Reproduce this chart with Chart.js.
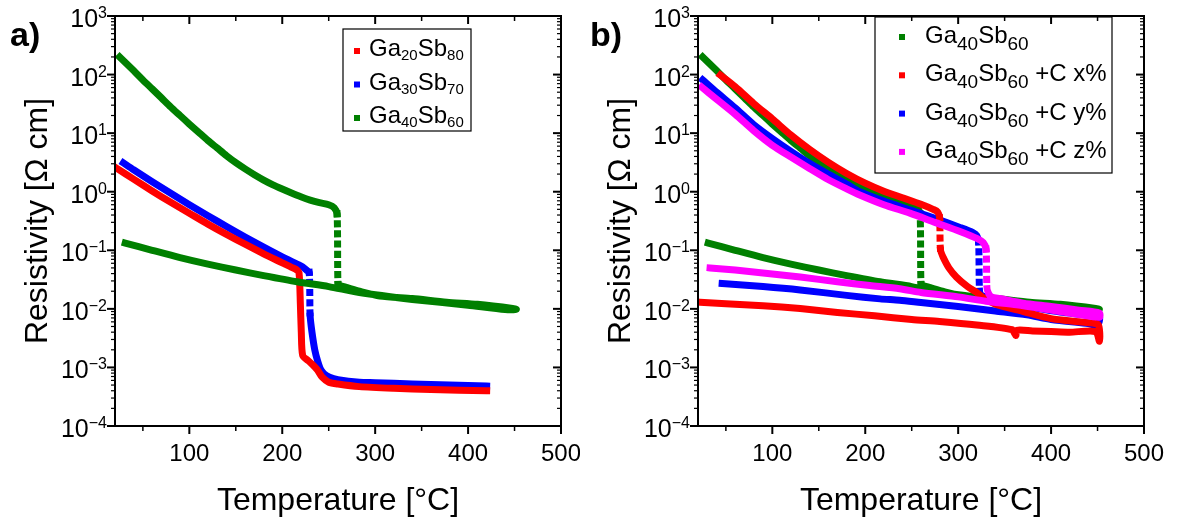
<!DOCTYPE html>
<html>
<head>
<meta charset="utf-8">
<title>Resistivity vs temperature</title>
<script src="https://cdn.jsdelivr.net/npm/chart.js@4/dist/chart.umd.min.js"></script>
<style>
body { margin: 0; background: #fff; }
#wrap { position: relative; width: 1177px; height: 524px; }
canvas { position: absolute; top: 0; }
</style>
</head>
<body>
<div id="wrap">
  <canvas id="chartA" width="580" height="524" style="left:0"></canvas>
  <canvas id="chartB" width="597" height="524" style="left:580px"></canvas>
</div>

<script>
// ---- data (T in degC, resistivity in Ohm cm) ----
// panel a
var tGa20Sb80 = [22, 40, 60, 80, 100, 120, 140, 160, 180, 200, 210, 215, 218, 219.5, 220.5, 222, 228, 233, 238, 243, 250, 260, 283, 320, 360, 420];
var rGa20Sb80 = [2.5, 1.64, 1.03, 0.66, 0.43, 0.28, 0.187, 0.127, 0.087, 0.061, 0.051, 0.047, 0.042, 0.012, 0.004, 0.0016, 0.0013, 0.0011, 0.0009, 0.00068, 0.00056, 0.00052, 0.00047, 0.00044, 0.00042, 0.0004];

var tGa30Sb70 = [29, 40, 60, 80, 100, 120, 140, 160, 180, 200, 216, 222, 226, 229, 230, 232, 235, 238, 241, 245, 251, 260, 283, 300, 340, 380, 420];
var rGa30Sb70 = [3.1, 2.37, 1.48, 0.94, 0.6, 0.39, 0.254, 0.168, 0.113, 0.077, 0.058, 0.052, 0.046, 0.042, 0.0075, 0.004, 0.002, 0.0013, 0.00095, 0.00078, 0.00068, 0.00062, 0.00056, 0.00055, 0.00052, 0.0005, 0.00048];

// heating up to 452 degC, then the cooling branch back to 31 degC
var tGa40Sb60 = [25, 40, 50, 60, 70, 80, 90, 100, 111, 120, 130, 140, 150, 160, 170, 180, 190, 200, 210, 220, 230, 240, 250, 256, 259,
                 260, 262, 270, 283, 305, 340, 377, 410, 448, 452,
                 440, 400, 340, 283, 250, 216, 180, 150, 120, 90, 60, 31];
var rGa40Sb60 = [200, 117, 81, 57, 40, 28, 20, 14.3, 10, 7.5, 5.56, 4.12, 3.13, 2.45, 1.95, 1.58, 1.31, 1.11, 0.95, 0.82, 0.72, 0.65, 0.6, 0.53, 0.42,
                 0.026, 0.025, 0.023, 0.02, 0.0166, 0.015, 0.013, 0.012, 0.0102, 0.0098,
                 0.0097, 0.0115, 0.0145, 0.019, 0.024, 0.029, 0.037, 0.046, 0.058, 0.075, 0.1, 0.133];

// panel b
var tCx = [44, 60, 80, 100, 120, 140, 160, 180, 200, 220, 240, 260, 273, 278, 280, 281, 284, 290, 298, 310, 320, 326, 340, 370, 400, 430, 450, 452, 452,
           448, 420, 400, 380, 363, 362, 358, 320, 280, 250, 210, 170, 130, 90, 50, 22];
var rCx = [98, 62, 32, 17.5, 9.3, 5.3, 3.2, 2.05, 1.4, 1.02, 0.79, 0.61, 0.5, 0.45, 0.36, 0.1, 0.075, 0.05, 0.035, 0.024, 0.019, 0.016, 0.012, 0.009, 0.0068, 0.006, 0.0055, 0.0045, 0.0028,
           0.0041, 0.004, 0.0041, 0.0042, 0.0043, 0.0035, 0.0044, 0.0053, 0.0061, 0.0066, 0.0076, 0.0087, 0.0101, 0.0113, 0.0122, 0.013];

var tCy = [25, 40, 60, 80, 100, 120, 140, 160, 180, 194, 220, 248, 275, 302, 316, 320, 322, 323, 325, 340, 360, 380, 410, 440, 452,
           450, 440, 400, 374, 340, 300, 260, 237, 216, 180, 130, 90, 46];
var rCy = [81, 50, 27, 14, 8.1, 4.9, 3.05, 2.0, 1.35, 1.0, 0.69, 0.49, 0.35, 0.245, 0.2, 0.178, 0.14, 0.02, 0.017, 0.014, 0.012, 0.0105, 0.0088, 0.0078, 0.0072,
           0.0053, 0.0056, 0.0066, 0.0079, 0.0092, 0.011, 0.0128, 0.014, 0.0148, 0.017, 0.021, 0.024, 0.027];

var tCz = [24, 40, 60, 80, 100, 120, 140, 160, 180, 194, 220, 248, 275, 302, 320, 327, 330, 331, 333, 336, 345, 370, 400, 430, 452,
           452, 430, 400, 363, 330, 300, 260, 237, 205, 170, 130, 90, 60, 33];
var rCz = [61, 38, 21, 11, 6.2, 3.9, 2.5, 1.62, 1.12, 0.88, 0.6, 0.43, 0.3, 0.21, 0.16, 0.135, 0.105, 0.022, 0.018, 0.016, 0.015, 0.0125, 0.011, 0.0095, 0.0085,
           0.0072, 0.008, 0.0095, 0.0117, 0.0135, 0.016, 0.019, 0.022, 0.025, 0.029, 0.035, 0.041, 0.046, 0.05];

var legendA = ['Ga_{20}Sb_{80}', 'Ga_{30}Sb_{70}', 'Ga_{40}Sb_{60}'];
var legendB = ['Ga_{40}Sb_{60}', 'Ga_{40}Sb_{60} +C x%', 'Ga_{40}Sb_{60} +C y%', 'Ga_{40}Sb_{60} +C z%'];

var xTicks = [100, 200, 300, 400, 500];
var xMinor = [50, 150, 250, 350, 450];
var yExps = [-4, -3, -2, -1, 0, 1, 2, 3];

var RED = '#ff0000', BLUE = '#0000ff', GREEN = '#008000', MAGENTA = '#ff00ff';
var FONT = '"Liberation Sans", Arial, sans-serif';

// dotted look where the curve jumps almost vertically (sparse points in the original)
function jumpDash(c) {
  var dx = Math.abs(c.p1.x - c.p0.x), dy = Math.abs(c.p1.y - c.p0.y);
  return (dy > 20 && dy > 5 * dx) ? [0.1, 10] : undefined;
}

function richText(ctx, text, x, y, size, subSize, drop) {
  text.split(/(_\{[^}]*\})/).forEach(function (p) {
    if (!p) return;
    if (p.indexOf('_{') === 0) {
      var s = p.slice(2, -1);
      ctx.font = subSize + 'px ' + FONT;
      ctx.fillText(s, x, y + drop);
      x += ctx.measureText(s).width;
    } else {
      ctx.font = size + 'px ' + FONT;
      ctx.fillText(p, x, y);
      x += ctx.measureText(p).width;
    }
  });
}

function line(ctx, x0, y0, x1, y1) {
  ctx.beginPath(); ctx.moveTo(x0, y0); ctx.lineTo(x1, y1); ctx.stroke();
}

var framePlugin = {
  id: 'frame',
  afterDraw: function (chart, args, o) {
    var ctx = chart.ctx, a = chart.chartArea, x = chart.scales.x, y = chart.scales.y;
    ctx.save();
    ctx.strokeStyle = '#000';
    ctx.fillStyle = '#000';
    ctx.lineWidth = 2;
    ctx.strokeRect(a.left, a.top, a.right - a.left, a.bottom - a.top);

    // x ticks: outward at bottom, inward at top
    xTicks.forEach(function (v) {
      var px = x.getPixelForValue(v);
      line(ctx, px, a.bottom, px, a.bottom + 8);
      line(ctx, px, a.top, px, a.top + 8);
    });
    ctx.lineWidth = 1.5;
    xMinor.forEach(function (v) {
      var px = x.getPixelForValue(v);
      line(ctx, px, a.bottom, px, a.bottom + 5);
      line(ctx, px, a.top, px, a.top + 5);
    });

    // y ticks: outward at left, inward at right
    yExps.forEach(function (e) {
      var py = y.getPixelForValue(Math.pow(10, e));
      ctx.lineWidth = 2;
      line(ctx, a.left - 8, py, a.left, py);
      line(ctx, a.right - 8, py, a.right, py);
      if (e < 3) {
        ctx.lineWidth = 1.2;
        for (var k = 2; k <= 9; k++) {
          var pm = y.getPixelForValue(k * Math.pow(10, e));
          line(ctx, a.left - 4, pm, a.left, pm);
          line(ctx, a.right - 4, pm, a.right, pm);
        }
      }
    });

    // tick labels
    ctx.textBaseline = 'alphabetic';
    ctx.font = '24px ' + FONT;
    ctx.textAlign = 'center';
    xTicks.forEach(function (v) {
      ctx.fillText(String(v), x.getPixelForValue(v), a.bottom + 35);
    });
    ctx.textAlign = 'left';
    yExps.forEach(function (e) {
      var py = y.getPixelForValue(Math.pow(10, e));
      var ex = (e < 0 ? '\u2212' : '') + Math.abs(e);
      ctx.font = '16px ' + FONT;
      var we = ctx.measureText(ex).width;
      ctx.font = '25px ' + FONT;
      var wb = ctx.measureText('10').width;
      var x0 = a.left - 8 - we - wb;
      ctx.fillText('10', x0, py + 11);
      ctx.font = '16px ' + FONT;
      ctx.fillText(ex, x0 + wb, py + 2);
    });

    // axis titles
    ctx.font = '32px ' + FONT;
    ctx.textAlign = 'center';
    ctx.fillText('Temperature [\u00b0C]', (a.left + a.right) / 2, 510);
    ctx.save();
    ctx.translate(a.left - 68, (a.top + a.bottom) / 2);
    ctx.rotate(-Math.PI / 2);
    ctx.fillText('Resistivity [\u03a9 cm]', 0, 0);
    ctx.restore();

    // panel letter
    ctx.textAlign = 'left';
    ctx.font = 'bold 34px ' + FONT;
    ctx.fillText(o.letter, 10, 46);

    // legend
    var L = o.legend;
    ctx.lineWidth = 1.2;
    ctx.strokeRect(L.x, L.y, L.w, L.h);
    L.items.forEach(function (it, i) {
      var cy = L.first + i * L.step;
      ctx.fillStyle = it.color;
      ctx.fillRect(L.mx - 3, cy - 3, 6, 6);
      ctx.fillStyle = '#000';
      richText(ctx, it.label, L.tx, cy + L.base, 24, L.sub, L.drop);
    });
    ctx.restore();
  }
};

function makePanel(id, pad, letter, series, legend) {
  return new Chart(document.getElementById(id), {
    type: 'scatter',
    data: {
      datasets: series.map(function (s) {
        return {
          label: s.label,
          data: s.t.map(function (t, i) { return { x: t, y: s.r[i] }; }),
          showLine: true,
          tension: 0.25,
          borderColor: s.color,
          backgroundColor: s.color,
          borderWidth: 7,
          pointRadius: 0,
          borderJoinStyle: 'round',
          borderCapStyle: 'square',
          segment: s.dots ? { borderDash: jumpDash } : {}
        };
      })
    },
    options: {
      responsive: false,
      animation: false,
      events: [],
      layout: { padding: pad },
      scales: {
        x: { type: 'linear', min: 20, max: 500, display: false },
        y: { type: 'logarithmic', min: 1e-4, max: 1e3, display: false }
      },
      plugins: {
        legend: { display: false },
        tooltip: { enabled: false },
        frame: { letter: letter, legend: legend }
      }
    },
    plugins: [framePlugin]
  });
}

// dataset 0 is drawn on top
makePanel('chartA', { left: 115, right: 19, top: 16, bottom: 98 }, 'a)', [
  { label: legendA[2], t: tGa40Sb60, r: rGa40Sb60, color: GREEN, dots: true },
  { label: legendA[0], t: tGa20Sb80, r: rGa20Sb80, color: RED, dots: false },
  { label: legendA[1], t: tGa30Sb70, r: rGa30Sb70, color: BLUE, dots: true }
], {
  x: 343, y: 29, w: 128, h: 102, mx: 357, tx: 369, first: 51, step: 33.5, base: 5, sub: 15, drop: 4,
  items: [
    { label: legendA[0], color: RED },
    { label: legendA[1], color: BLUE },
    { label: legendA[2], color: GREEN }
  ]
});

makePanel('chartB', { left: 118, right: 33, top: 16, bottom: 98 }, 'b)', [
  { label: legendB[3], t: tCz, r: rCz, color: MAGENTA, dots: true },
  { label: legendB[1], t: tCx, r: rCx, color: RED, dots: true },
  { label: legendB[2], t: tCy, r: rCy, color: BLUE, dots: true },
  { label: legendB[0], t: tGa40Sb60, r: rGa40Sb60, color: GREEN, dots: true }
], {
  x: 295, y: 17, w: 237, h: 156, mx: 322, tx: 345, first: 37, step: 38.3, base: 6, sub: 19, drop: 7,
  items: [
    { label: legendB[0], color: GREEN },
    { label: legendB[1], color: RED },
    { label: legendB[2], color: BLUE },
    { label: legendB[3], color: MAGENTA }
  ]
});
</script>
</body>
</html>
